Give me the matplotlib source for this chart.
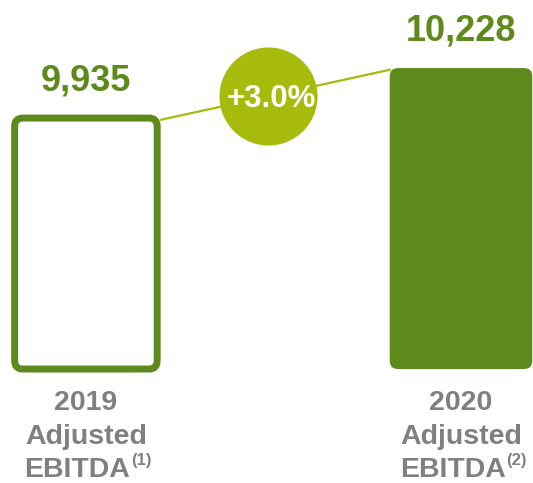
import numpy as np
import matplotlib.pyplot as plt
from matplotlib.patches import FancyBboxPatch

plt.rcParams['font.family'] = ['Liberation Sans', 'DejaVu Sans']
plt.rcParams['font.weight'] = 'bold'

# Dados
anos = ['2019', '2020']
notas = ['(1)', '(2)']
valores = [9935, 10228]
rotulos = ['9,935', '10,228']
variacao = '+3.0%'

verde = '#5E8A1C'
verde_claro = '#A6BB0C'
cinza = '#808080'

fig = plt.figure(figsize=(5.33, 4.83), dpi=100)
ax = fig.add_axes([0, 0, 1, 1])
ax.set_xlim(-0.229, 1.192)
ax.set_ylim(7796, 10627)
ax.axis('off')

x = np.arange(len(valores))
largura = 0.38
base = 8464

# razao de aspecto para cantos arredondados
p0 = ax.transData.transform((0, 0))
p1 = ax.transData.transform((1, 1))
aspecto = (p1[0] - p0[0]) / (p1[1] - p0[1])

for i, v in enumerate(valores):
    preenchido = i == 1
    caixa = FancyBboxPatch((x[i] - largura / 2, base), largura, v - base,
                           boxstyle='round,pad=0,rounding_size=0.022',
                           mutation_aspect=aspecto,
                           facecolor=verde if preenchido else 'white',
                           edgecolor=verde, linewidth=5 if not preenchido else 0,
                           zorder=2)
    ax.add_patch(caixa)
    ax.annotate(rotulos[i], (x[i], v), xytext=(0, 20), textcoords='offset points',
                ha='center', va='baseline', fontsize=26, fontweight='bold', color=verde)
    # rotulo da categoria: tres linhas, a ultima com nota sobrescrita
    linhas = [anos[i], 'Adjusted', 'EBITDA']
    ys = [0.151, 0.0815, 0.012]
    for j, s in enumerate(linhas):
        ax.annotate(s, (x[i], ys[j]), xycoords=('data', 'axes fraction'),
                    xytext=(-6 if j == 2 else 0, 0), textcoords='offset points',
                    ha='center', va='baseline', fontsize=20.5, fontweight='bold',
                    color=cinza)
    ax.annotate(notas[i], (x[i], ys[2]), xycoords=('data', 'axes fraction'),
                xytext=(40, 9), textcoords='offset points',
                ha='center', va='baseline', fontsize=12, fontweight='bold', color=cinza)

# linha de ligacao
xa, ya = x[0] + largura / 2 + 0.01, valores[0] - 10
xb, yb = x[1] - largura / 2, valores[1] - 10
ax.plot([xa, xb], [ya, yb], color=verde_claro, lw=1.6, zorder=1)

t = 0.47
cx, cy = xa + t * (xb - xa), ya + t * (yb - ya)
ax.scatter([cx], [cy], s=4985, color=verde_claro, zorder=3, linewidths=0)
ax.text(cx + 0.008, cy - 15, variacao, ha='center', va='center', fontsize=22.5,
        fontweight='bold', color='white', zorder=4)

fig.savefig('out.png', dpi=100)
